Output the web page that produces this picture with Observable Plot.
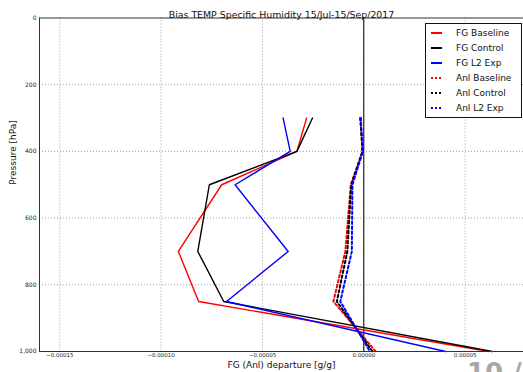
<!DOCTYPE html>
<html><head><meta charset="utf-8">
<script src="https://cdn.jsdelivr.net/npm/d3@7"></script>
<script src="https://cdn.jsdelivr.net/npm/@observablehq/plot@0.6"></script>
<style>
html,body{margin:0;padding:0;background:#fff;overflow:hidden;}
#wrap{position:relative;width:523px;height:372px;overflow:hidden;}
#page{position:absolute;left:467px;top:360px;font:bold 26px "DejaVu Sans";line-height:26px;color:#a8a8a8;white-space:nowrap;}
</style></head><body><div id="wrap"><div id="page">10 /</div></div>
<script>
const titleText = "Bias TEMP Specific Humidity 15/Jul-15/Sep/2017";
const xLabel = "FG (Anl) departure [g/g]";
const yLabel = "Pressure [hPa]";
const levels = [300, 400, 500, 700, 850, 1000];
const seriesNames = ["FG Baseline", "FG Control", "FG L2 Exp", "Anl Baseline", "Anl Control", "Anl L2 Exp"];
const seriesColors = ["#ff0000", "#000000", "#0000ff", "#ff0000", "#000000", "#0000ff"];
const seriesDashed = [false, false, false, true, true, true];
const fgBaseline  = [-2.82e-5, -3.30e-5, -7.01e-5, -9.15e-5, -8.15e-5, 6.17e-5];
const fgControl   = [-2.53e-5, -3.30e-5, -7.62e-5, -8.19e-5, -6.91e-5, 6.34e-5];
const fgL2Exp     = [-3.98e-5, -3.63e-5, -6.35e-5, -3.73e-5, -6.77e-5, 4.04e-5];
const anlBaseline = [-1.7e-6, -0.6e-6, -6.4e-6, -9.1e-6, -1.50e-5, 5.9e-6];
const anlControl  = [-1.7e-6, -0.6e-6, -6.2e-6, -8.1e-6, -1.33e-5, 4.3e-6];
const anlL2Exp    = [-1.5e-6, -0.5e-6, -5.6e-6, -5.9e-6, -1.16e-5, 3.1e-6];
const seriesValues = [fgBaseline, fgControl, fgL2Exp, anlBaseline, anlControl, anlL2Exp];
const xTicks = [-0.00015, -0.0001, -0.00005, 0, 0.00005];
const xTickLabels = ["\u22120.00015", "\u22120.00010", "\u22120.00005", "0.00000", "0.00005"];
const yTicks = [0, 200, 400, 600, 800, 1000];
const yGrid = [200, 400, 600, 800];
const xDomain = [-0.00016, 0.0000788];

const rows = [];
seriesValues.forEach((vals, i) => vals.forEach((v, j) => rows.push({series: seriesNames[i], x: v, p: levels[j], dashed: seriesDashed[i]})));

const plot = Plot.plot({
  width: 523, height: 372,
  marginLeft: 39, marginRight: 0, marginTop: 17.5, marginBottom: 21,
  style: {fontFamily: "DejaVu Sans", background: "#fff", color: "#222"},
  x: {domain: xDomain, label: null, axis: null},
  y: {domain: [0, 1000], reverse: true, label: null, axis: null},
  color: {domain: seriesNames, range: seriesColors},
  marks: [
    Plot.ruleX(xTicks, {stroke: "#888", strokeDasharray: "1,2", strokeWidth: 0.8}),
    Plot.ruleY(yGrid, {stroke: "#888", strokeDasharray: "1,2", strokeWidth: 0.8}),
    Plot.ruleX([0], {stroke: "#000", strokeWidth: 1}),
    Plot.line(rows.filter(d => !d.dashed), {x: "x", y: "p", z: "series", stroke: "series", strokeWidth: 1.4}),
    Plot.line(rows.filter(d => d.dashed), {x: "x", y: "p", z: "series", stroke: "series", strokeWidth: 2, strokeDasharray: "2.5,2.5"}),
    Plot.ruleX([xDomain[0]], {stroke: "#333", strokeWidth: 1}),
    Plot.ruleY([0, 1000], {stroke: "#333", strokeWidth: 1}),
    Plot.axisX(xTicks, {tickFormat: (d, i) => xTickLabels[i], fontSize: 5.5, tickSize: 0, tickPadding: 2, label: null}),
    Plot.axisY(yTicks, {fontSize: 6, tickSize: 0, tickPadding: 3, label: null}),
    Plot.text([titleText], {text: d => d, frameAnchor: "top", dy: -6.5, fontSize: 9.4, fill: "#111"}),
    Plot.text([xLabel], {text: d => d, frameAnchor: "bottom", dy: 16.5, fontSize: 9, fill: "#111"}),
    Plot.text([yLabel], {text: d => d, frameAnchor: "left", dx: -26, rotate: -90, fontSize: 9, fill: "#111"})
  ]
});

const svg = d3.select(plot);
const lg = svg.append("g").attr("font-family", "DejaVu Sans").attr("font-size", 9).attr("text-anchor", "start");
lg.append("rect").attr("x", 425.5).attr("y", 23.5).attr("width", 96).attr("height", 94)
  .attr("fill", "#fff").attr("stroke", "#111").attr("stroke-width", 1);
seriesNames.forEach((name, i) => {
  const cy = 33 + i * 15;
  lg.append("line").attr("x1", 431).attr("x2", 442).attr("y1", cy).attr("y2", cy)
    .attr("stroke", seriesColors[i]).attr("stroke-width", 2)
    .attr("stroke-dasharray", seriesDashed[i] ? "2,2" : null);
  lg.append("text").attr("x", 456).attr("y", cy).attr("dy", "0.35em").attr("fill", "#111").text(name);
});

document.getElementById("wrap").prepend(plot);
</script></body></html>
